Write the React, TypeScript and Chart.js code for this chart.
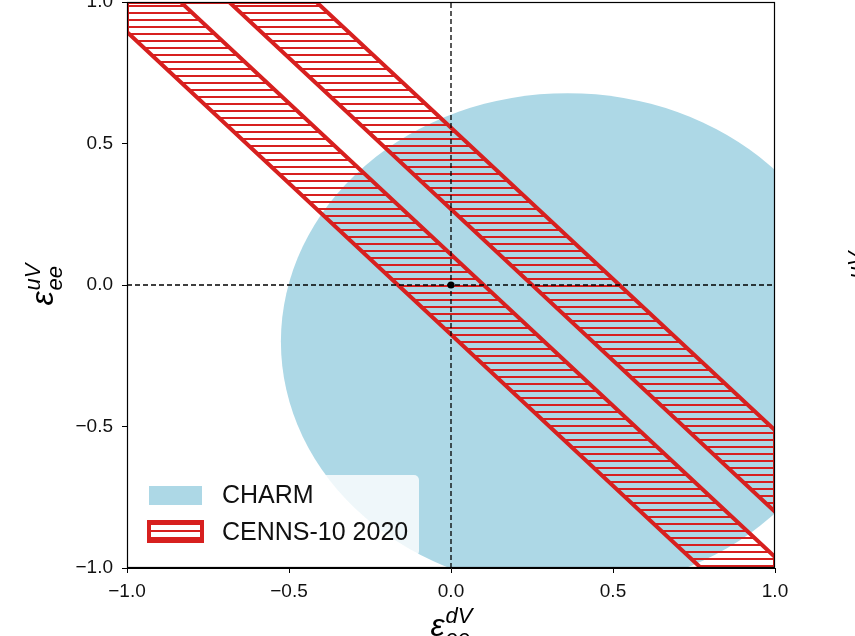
import React, { useEffect, useRef } from "react";
import { Chart, registerables } from "chart.js";

Chart.register(...registerables);

// ---- data ----
const AXIS_MIN = -1;
const AXIS_MAX = 1;
const X_TICKS = [-1, -0.5, 0, 0.5, 1];
const Y_TICKS = [-1, -0.5, 0, 0.5, 1];

// CHARM allowed region: ellipse in data coordinates (centre, radii)
const CHARM_CENTER = [0.36, -0.2];
const CHARM_RADII = [0.885, 0.878];

// CENNS-10 2020 bands: eps_uV = intercept + slope * eps_dV
const CENNS_SLOPE = -1.069;
const CENNS_BAND_LOWER = [-0.175, 0.268];
const CENNS_BAND_UPPER = [0.108, 0.556];

// reference point (SM) and guide lines
const SM_POINT = [0, 0];

const LEGEND_LABELS = ["CHARM", "CENNS-10 2020"];
const X_TITLE = { base: "ε", sup: "dV", sub: "ee" };
const Y_TITLE = { base: "ε", sup: "uV", sub: "ee" };

const BLUE = "#add8e6";
const RED = "#d7201f";
const FONT = '"Liberation Sans", Arial, Helvetica, sans-serif';

function fmtTick(v: number) {
  const s = Math.abs(v).toFixed(1);
  return v < 0 ? "\u2212" + s : s;
}

function clippedLine(b: number, m: number) {
  const f = (x: number) => b + m * x;
  const xs = [AXIS_MIN, AXIS_MAX];
  [(AXIS_MAX - b) / m, (AXIS_MIN - b) / m].forEach((x) => {
    if (x > AXIS_MIN && x < AXIS_MAX) xs.push(x);
  });
  xs.sort((a, c) => a - c);
  return xs.map((x) => ({ x, y: Math.min(AXIS_MAX, Math.max(AXIS_MIN, f(x))) }));
}

function bandPolygon(lo: number, hi: number) {
  const a = clippedLine(lo, CENNS_SLOPE);
  const b = clippedLine(hi, CENNS_SLOPE).reverse();
  const pts = [...a, ...b];
  pts.push({ ...pts[0] });
  return pts;
}

function drawEps(ctx: CanvasRenderingContext2D, t: { base: string; sup: string; sub: string }) {
  ctx.font = `italic 32px ${FONT}`;
  const we = ctx.measureText(t.base).width;
  ctx.font = `italic 22px ${FONT}`;
  const ws = Math.max(ctx.measureText(t.sup).width, ctx.measureText(t.sub).width);
  const total = we + ws;
  const x0 = -total / 2;
  ctx.font = `italic 32px ${FONT}`;
  ctx.fillText(t.base, x0, 0);
  ctx.font = `italic 22px ${FONT}`;
  ctx.fillText(t.sup, x0 + we + 1, -13);
  ctx.fillText(t.sub, x0 + we + 1, 9);
}

const charmPlugin = {
  id: "charmRegion",
  beforeDatasetsDraw(chart: any) {
    const { ctx, chartArea, scales } = chart;
    const xs = scales.x;
    const ys = scales.y;
    const cx = xs.getPixelForValue(CHARM_CENTER[0]);
    const cy = ys.getPixelForValue(CHARM_CENTER[1]);
    const rx = Math.abs(xs.getPixelForValue(CHARM_CENTER[0] + CHARM_RADII[0]) - cx);
    const ry = Math.abs(ys.getPixelForValue(CHARM_CENTER[1] + CHARM_RADII[1]) - cy);
    ctx.save();
    ctx.beginPath();
    ctx.rect(chartArea.left, chartArea.top, chartArea.right - chartArea.left, chartArea.bottom - chartArea.top);
    ctx.clip();
    ctx.beginPath();
    ctx.ellipse(cx, cy, rx, ry, 0, 0, Math.PI * 2);
    ctx.fillStyle = BLUE;
    ctx.fill();
    ctx.restore();
  },
};

function makeOverlay(hatch: CanvasPattern | null) {
  return {
    id: "overlay",
    afterDraw(chart: any) {
      const { ctx, chartArea } = chart;
      const { left, right, top, bottom } = chartArea;
      ctx.save();
      // frame
      ctx.strokeStyle = "#000";
      ctx.lineWidth = 1.2;
      ctx.strokeRect(Math.round(left) + 0.5, Math.round(top) + 0.5, Math.round(right - left) - 1, Math.round(bottom - top) - 1);

      // legend
      const bx = left + 10;
      const by = bottom - 93;
      const bw = 282;
      const bh = 81;
      ctx.beginPath();
      (ctx as any).roundRect(bx, by, bw, bh, 5);
      ctx.fillStyle = "rgba(255,255,255,0.8)";
      ctx.fill();

      ctx.fillStyle = BLUE;
      ctx.fillRect(left + 22, bottom - 82, 53, 19);

      ctx.fillStyle = "#fff";
      ctx.fillRect(left + 22, bottom - 46, 53, 19);
      if (hatch) {
        ctx.fillStyle = hatch;
        ctx.fillRect(left + 22, bottom - 46, 53, 19);
      }
      ctx.strokeStyle = RED;
      ctx.lineWidth = 4;
      ctx.strokeRect(left + 22, bottom - 46, 53, 19);

      ctx.fillStyle = "#111";
      ctx.font = `25px ${FONT}`;
      ctx.textBaseline = "alphabetic";
      ctx.textAlign = "left";
      ctx.fillText(LEGEND_LABELS[0], left + 95, bottom - 65);
      ctx.fillText(LEGEND_LABELS[1], left + 95, bottom - 28);

      // axis titles
      ctx.fillStyle = "#000";
      ctx.save();
      ctx.translate((left + right) / 2, bottom + 68);
      drawEps(ctx, X_TITLE);
      ctx.restore();

      ctx.save();
      ctx.translate(left - 74, (top + bottom) / 2);
      ctx.rotate(-Math.PI / 2);
      drawEps(ctx, Y_TITLE);
      ctx.restore();

      // neighbouring panel's y title (cut by the edge)
      ctx.save();
      ctx.translate(left - 74 + 823, (top + bottom) / 2 - 12);
      ctx.rotate(-Math.PI / 2);
      drawEps(ctx, Y_TITLE);
      ctx.restore();

      ctx.restore();
    },
  };
}

export default function App() {
  const ref = useRef<HTMLCanvasElement | null>(null);

  useEffect(() => {
    const canvas = ref.current;
    if (!canvas) return;
    const c2d = canvas.getContext("2d");
    const tile = document.createElement("canvas");
    tile.width = 8;
    tile.height = 7;
    const tg = tile.getContext("2d")!;
    tg.fillStyle = RED;
    tg.fillRect(0, 3, 8, 2);
    const hatch = c2d ? c2d.createPattern(tile, "repeat") : null;

    const bandSets = CENNS_BAND_LOWER.map((lo, i) => ({
      label: LEGEND_LABELS[1],
      data: bandPolygon(lo, CENNS_BAND_UPPER[i]),
      borderColor: RED,
      borderWidth: 4,
      backgroundColor: hatch || "rgba(214,39,40,0.3)",
      fill: "shape",
      pointRadius: 0,
      tension: 0,
      borderJoinStyle: "miter",
      clip: 0,
      order: 10 + i,
    }));

    const chart = new Chart(canvas, {
      type: "line",
      data: {
        datasets: [
          ...bandSets,
          {
            label: "h",
            data: [
              { x: AXIS_MIN, y: SM_POINT[1] },
              { x: AXIS_MAX, y: SM_POINT[1] },
            ],
            borderColor: "#000",
            borderWidth: 1.3,
            borderDash: [5, 3],
            pointRadius: 0,
            fill: false,
            clip: 0,
            order: 3,
          },
          {
            label: "v",
            data: [
              { x: SM_POINT[0], y: AXIS_MIN },
              { x: SM_POINT[0], y: AXIS_MAX },
            ],
            borderColor: "#000",
            borderWidth: 1.3,
            borderDash: [5, 3],
            pointRadius: 0,
            fill: false,
            clip: 0,
            order: 2,
          },
          {
            label: "SM",
            data: [{ x: SM_POINT[0], y: SM_POINT[1] }],
            showLine: false,
            pointRadius: 3.6,
            pointBackgroundColor: "#000",
            pointBorderColor: "#000",
            pointBorderWidth: 0,
            fill: false,
            order: 1,
          },
        ] as any,
      },
      options: {
        responsive: false,
        devicePixelRatio: 1,
        animation: false,
        events: [],
        layout: { padding: { top: 42, right: 80, left: 0, bottom: 0 } },
        plugins: { legend: { display: false }, tooltip: { enabled: false } },
        scales: {
          x: {
            type: "linear",
            min: AXIS_MIN,
            max: AXIS_MAX,
            afterBuildTicks: (s: any) => {
              s.ticks = X_TICKS.map((v) => ({ value: v }));
            },
            afterFit: (s: any) => {
              s.height = 112;
            },
            ticks: {
              callback: (v: any) => fmtTick(Number(v)),
              font: { family: FONT, size: 19 },
              color: "#111",
              padding: 7,
              maxRotation: 0,
              autoSkip: false,
            },
            grid: { drawOnChartArea: false, color: "#000", tickLength: 5, lineWidth: 1 },
            border: { display: true, color: "#000", width: 1 },
          },
          y: {
            type: "linear",
            min: AXIS_MIN,
            max: AXIS_MAX,
            afterBuildTicks: (s: any) => {
              s.ticks = Y_TICKS.map((v) => ({ value: v }));
            },
            afterFit: (s: any) => {
              s.width = 127;
            },
            ticks: {
              callback: (v: any) => fmtTick(Number(v)),
              font: { family: FONT, size: 19 },
              color: "#111",
              padding: 9,
              autoSkip: false,
            },
            grid: { drawOnChartArea: false, color: "#000", tickLength: 5, lineWidth: 1 },
            border: { display: true, color: "#000", width: 1 },
          },
        },
      } as any,
      plugins: [charmPlugin, makeOverlay(hatch)],
    });
    return () => chart.destroy();
  }, []);

  return (
    <div
      style={{
        position: "fixed",
        left: 0,
        top: 0,
        width: 855,
        height: 636,
        overflow: "hidden",
        background: "#fff",
      }}
    >
      <canvas ref={ref} width={855} height={720} style={{ position: "absolute", left: 0, top: -40, width: 855, height: 720 }} />
    </div>
  );
}
